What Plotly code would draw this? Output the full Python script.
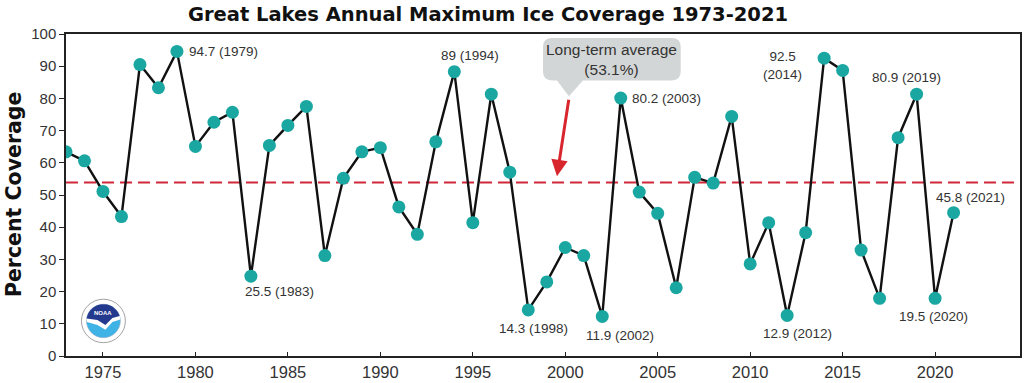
import math
import plotly.graph_objects as go

# ---------------- data ----------------
years = list(range(1973, 2022))
ice_cover = [63.4, 60.6, 51.1, 43.3, 90.5, 83.3, 94.6, 65.1, 72.6, 75.7,
             24.8, 65.4, 71.6, 77.5, 31.2, 55.2, 63.4, 64.7, 46.3, 37.8,
             66.5, 88.3, 41.4, 81.3, 57.1, 14.3, 23.0, 33.7, 31.2, 12.3,
             80.1, 50.9, 44.3, 21.2, 55.5, 53.7, 74.4, 28.6, 41.4, 12.6,
             38.3, 92.5, 88.7, 32.9, 17.9, 67.8, 81.3, 17.9, 44.5]
label_years = [1979, 1983, 1994, 1998, 2002, 2003, 2012, 2014, 2019, 2020, 2021]
label_texts = ["94.7 (1979)", "25.5 (1983)", "89 (1994)", "14.3 (1998)", "11.9 (2002)",
               "80.2 (2003)", "12.9 (2012)", "92.5<br>(2014)", "80.9 (2019)",
               "19.5 (2020)", "45.8 (2021)"]
average_level = 53.9
average_text = "Long-term average<br>(53.1%)"
y_ticks = [0, 10, 20, 30, 40, 50, 60, 70, 80, 90, 100]
x_ticks = [1975, 1980, 1985, 1990, 1995, 2000, 2005, 2010, 2015, 2020]
title_text = "Great Lakes Annual Maximum Ice Coverage 1973-2021"
y_title = "Percent Coverage"

# ---------------- layout helpers (pixel -> paper) ----------------
W, H = 1024, 383
L, R, T, B = 66, 2, 34, 23
PW, PH = W - L - R, H - T - B


def PX(x):
    return (x - L) / PW


def PY(y):
    return (H - B - y) / PH


FONT = "Liberation Sans, Arial, sans-serif"
BOLD = "DejaVu Sans, Liberation Sans, sans-serif"
TEAL = "#1aa7a1"
RED = "#d0283a"
TXT = "#333333"

fig = go.Figure()
fig.add_trace(go.Scatter(
    x=years, y=ice_cover, mode="lines+markers",
    line=dict(color="#111111", width=2.4),
    marker=dict(color=TEAL, size=13, line=dict(width=0)),
    cliponaxis=True, showlegend=False, hoverinfo="x+y"))

shapes = []
# long-term average dashed line
shapes.append(dict(type="line", xref="paper", yref="y", x0=0, x1=1,
                   y0=average_level, y1=average_level,
                   line=dict(color=RED, width=2, dash="12px,6px"), layer="below"))

# callout bubble (rounded rect + tail)
bx0, bx1, by0, by1, rr = 544, 682, 38, 81, 9
tail = [(558, by1), (570, 97), (584, by1)]
path = "M %f,%f " % (PX(bx0 + rr), PY(by0))
path += "L %f,%f " % (PX(bx1 - rr), PY(by0))
path += "Q %f,%f %f,%f " % (PX(bx1), PY(by0), PX(bx1), PY(by0 + rr))
path += "L %f,%f " % (PX(bx1), PY(by1 - rr))
path += "Q %f,%f %f,%f " % (PX(bx1), PY(by1), PX(bx1 - rr), PY(by1))
path += "L %f,%f " % (PX(tail[2][0]), PY(tail[2][1]))
path += "L %f,%f " % (PX(tail[1][0]), PY(tail[1][1]))
path += "L %f,%f " % (PX(tail[0][0]), PY(tail[0][1]))
path += "L %f,%f " % (PX(bx0 + rr), PY(by1))
path += "Q %f,%f %f,%f " % (PX(bx0), PY(by1), PX(bx0), PY(by1 - rr))
path += "L %f,%f " % (PX(bx0), PY(by0 + rr))
path += "Q %f,%f %f,%f Z" % (PX(bx0), PY(by0), PX(bx0 + rr), PY(by0))
shapes.append(dict(type="path", xref="paper", yref="paper", path=path,
                   fillcolor="#d3d6d6", line=dict(width=0), layer="above"))

# NOAA-like logo
cx, cy, Ro, Ri = 103.5, 324.5, 22, 17


def circ(r, **kw):
    return dict(type="circle", xref="paper", yref="paper",
                x0=PX(cx - r), x1=PX(cx + r), y0=PY(cy + r), y1=PY(cy - r), **kw)


def poly(points):
    return "M " + " L ".join("%f,%f" % (PX(px), PY(py)) for px, py in points) + " Z"


shapes.append(circ(Ro, fillcolor="white", line=dict(color="#8a8a8a", width=0.8), layer="above"))
shapes.append(circ(Ri, fillcolor="#3fb3e6", line=dict(color="#9aa6b8", width=0.5), layer="above"))
arc_pts = []
for a in range(175, 4, -5):
    ar = math.radians(a)
    arc_pts.append((cx + Ri * math.cos(ar), cy - Ri * math.sin(ar)))
shapes.append(dict(type="path", xref="paper", yref="paper",
                   path=poly(arc_pts + [(cx + 9, cy + 1), (cx + 2, cy + 9), (cx - 6, cy + 4),
                                        (cx - Ri + 0.5, cy + 1)]),
                   fillcolor="white", line=dict(width=0), layer="above"))
navy = []
for a in range(172, 12, -5):
    ar = math.radians(a)
    navy.append((cx + Ri * math.cos(ar), cy - Ri * math.sin(ar)))
navy += [(cx + 9, cy - 3), (cx + 2, cy + 4), (cx - 6, cy - 1)]
shapes.append(dict(type="path", xref="paper", yref="paper", path=poly(navy),
                   fillcolor="#233a8e", line=dict(width=0), layer="above"))

annotations = []
# y axis title
annotations.append(dict(xref="paper", yref="paper", x=PX(14), y=PY(196),
                        text="<b>" + y_title + "</b>", textangle=-90, showarrow=False,
                        xanchor="center", yanchor="middle",
                        font=dict(family=BOLD, size=20.5, color="#111111")))
# callout text
annotations.append(dict(xref="paper", yref="paper", x=PX((bx0 + bx1) / 2), y=PY((by0 + by1) / 2),
                        text=average_text, showarrow=False, xanchor="center", yanchor="middle",
                        align="center", font=dict(family=FONT, size=15.5, color="#333333")))
# red arrow
annotations.append(dict(xref="paper", yref="paper", x=PX(558), y=PY(178), ax=12, ay=-78,
                        axref="pixel", ayref="pixel", text="", showarrow=True,
                        arrowhead=2, arrowsize=1.1, arrowwidth=3, arrowcolor="#d7262e",
                        standoff=0))
# NOAA text
annotations.append(dict(xref="paper", yref="paper", x=PX(cx), y=PY(cy - 8), text="<b>NOAA</b>",
                        xanchor="center", yanchor="middle",
                        showarrow=False, font=dict(family=FONT, size=6, color="white")))

# data labels: placement (style) per year
placement = {
    1979: ("left", 10, 0),
    1983: ("center", 29, -15),
    1994: ("center", 16, 16),
    1998: ("center", 5, -19),
    2002: ("center", 18, -19),
    2003: ("left", 9, 0),
    2012: ("center", 10, -18),
    2014: ("center", -42, -7),
    2019: ("center", -10, 17),
    2020: ("center", -2, -18),
    2021: ("center", 17, 15),
}
for yr, txt in zip(label_years, label_texts):
    xa, dx, dy = placement[yr]
    val = ice_cover[years.index(yr)]
    annotations.append(dict(x=yr, y=val, xref="x", yref="y", text=txt, showarrow=False,
                            xanchor=xa, yanchor="middle", xshift=dx, yshift=dy, align="center",
                            font=dict(family=FONT, size=13.5, color=TXT)))

fig.update_layout(
    width=W, height=H,
    margin=dict(l=L, r=R, t=T, b=B),
    paper_bgcolor="white", plot_bgcolor="white",
    title=dict(text="<b>" + title_text + "</b>", x=488 / W, xanchor="center",
               y=1 - 14 / H, yanchor="middle",
               font=dict(family=BOLD, size=19.5, color="#111111")),
    shapes=shapes, annotations=annotations,
    font=dict(family=FONT),
)
fig.update_xaxes(range=[1973, 1973 + PW / 18.53], tickvals=x_ticks,
                 showgrid=False, zeroline=False,
                 showline=True, linecolor="#222222", linewidth=1.5, mirror=True,
                 ticks="inside", ticklen=4, tickcolor="#222222",
                 tickfont=dict(family=FONT, size=16.5, color=TXT))
fig.update_yaxes(range=[0, 100], tickvals=y_ticks,
                 showgrid=False, zeroline=False,
                 showline=True, linecolor="#222222", linewidth=1.5, mirror=True,
                 ticks="outside", ticklen=5, tickcolor="#222222",
                 tickfont=dict(family=FONT, size=15, color=TXT))

fig.write_html("out.html", config={"displayModeBar": False},
               post_script="document.body.style.margin='0px';document.body.style.overflow='hidden';")
